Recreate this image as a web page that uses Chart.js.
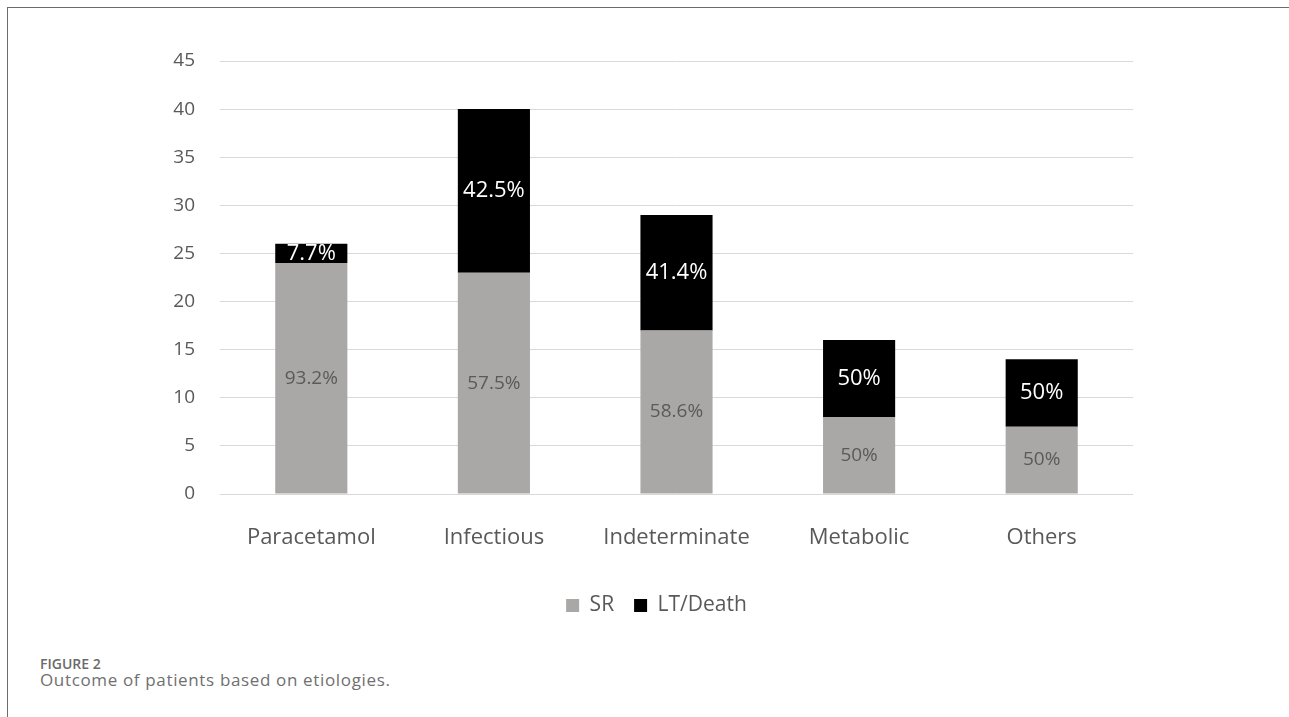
<!DOCTYPE html>
<html>
<head>
<meta charset="utf-8">
<script src="https://cdn.jsdelivr.net/npm/chart.js@4.4.0/dist/chart.umd.min.js"></script>
<style>
  body { margin: 0; background: #fff; }
  #wrap { position: relative; width: 1289px; height: 717px; overflow: hidden; }
  #frame { position: absolute; left: 7px; top: 7px; width: 1290px; height: 720px;
           border-left: 1px solid #6b6b6b; border-top: 1px solid #6b6b6b; }
  #chart { position: absolute; left: 0; top: 0; }
  .cap1 { position: absolute; left: 40px; top: 654px; line-height: 1;
          font: 600 14px "Open Sans", sans-serif; color: #6a6a6a; }
  .cap2 { position: absolute; left: 40px; top: 668px; line-height: 1; letter-spacing: 0.65px;
          font: 17px "Open Sans", sans-serif; color: #707070; }
</style>
</head>
<body>
<div id="wrap">
  <div id="frame"></div>
  <canvas id="chart" width="1289" height="640"></canvas>
  <div class="cap1">FIGURE 2</div>
  <div class="cap2">Outcome of patients based on etiologies.</div>
</div>
<script>
const categories = ['Paracetamol', 'Infectious', 'Indeterminate', 'Metabolic', 'Others'];
const srValues = [24, 23, 17, 8, 7];
const deathValues = [2, 17, 12, 8, 7];
const srLabels = ['93.2%', '57.5%', '58.6%', '50%', '50%'];
const deathLabels = ['7.7%', '42.5%', '41.4%', '50%', '50%'];
const yTicks = [0, 5, 10, 15, 20, 25, 30, 35, 40, 45];

const textColor = '#595959';

// draws the percentage text in the middle of each bar segment
const segmentLabels = {
  id: 'segmentLabels',
  afterDatasetsDraw(chart) {
    const ctx = chart.ctx;
    chart.data.datasets.forEach((ds, i) => {
      const meta = chart.getDatasetMeta(i);
      meta.data.forEach((bar, j) => {
        ctx.save();
        ctx.textAlign = 'center';
        ctx.textBaseline = 'middle';
        ctx.fillStyle = ds.labelColor;
        ctx.font = ds.labelFont;
        ctx.fillText(ds.pctLabels[j], bar.x, (bar.y + bar.base) / 2);
        ctx.restore();
      });
    });
  }
};

// legend in the original sits a bit right of the page centre
const legendShift = {
  id: 'legendShift',
  afterLayout(chart) {
    chart.legend.left += 25;
    chart.legend.right += 25;
  }
};

new Chart(document.getElementById('chart'), {
  type: 'bar',
  data: {
    labels: categories,
    datasets: [{
      label: 'SR',
      data: srValues,
      backgroundColor: '#aaa7a7',
      pctLabels: srLabels,
      labelColor: '#5a5a5a',
      labelFont: '19px "Open Sans", sans-serif'
    }, {
      label: 'LT/Death',
      data: deathValues,
      backgroundColor: '#000000',
      pctLabels: deathLabels,
      labelColor: '#ffffff',
      labelFont: '22px "Open Sans", sans-serif'
    }]
  },
  options: {
    responsive: false,
    animation: false,
    layout: { padding: { left: 130, right: 156, top: 61, bottom: 14 } },
    datasets: { bar: { categoryPercentage: 1, barPercentage: 0.395 } },
    scales: {
      x: {
        stacked: true,
        grid: { display: false },
        border: { display: false },
        ticks: { color: textColor, padding: 23, font: { family: 'Open Sans', size: 22 } },
        afterFit(scale) { scale.height = 81; }
      },
      y: {
        stacked: true,
        min: 0,
        max: 45,
        afterBuildTicks(scale) { scale.ticks = yTicks.map(v => ({ value: v })); },
        afterFit(scale) { scale.width = 90; },
        grid: { color: '#d9d9d9', drawTicks: false },
        border: { display: false },
        ticks: { color: textColor, padding: 25, font: { family: 'Open Sans', size: 19 } }
      }
    },
    plugins: {
      legend: {
        position: 'bottom',
        labels: {
          color: textColor,
          boxWidth: 13,
          boxHeight: 13,
          padding: 20,
          font: { family: 'Open Sans', size: 21 }
        }
      },
      tooltip: { enabled: false }
    }
  },
  plugins: [segmentLabels, legendShift]
});
</script>
</body>
</html>
